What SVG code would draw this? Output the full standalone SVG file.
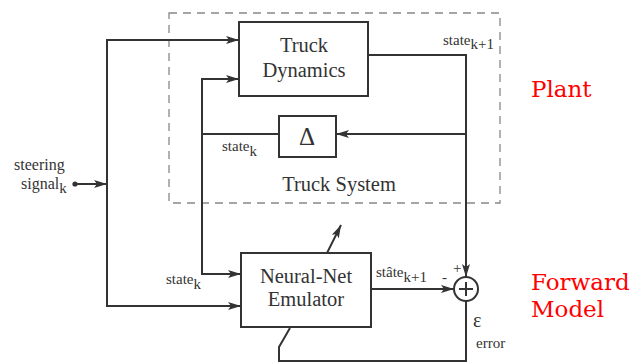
<svg xmlns="http://www.w3.org/2000/svg" width="636" height="363" viewBox="0 0 636 363">
  <style>
    .box { fill: #fff; stroke: #333; stroke-width: 2; }
    .wire { fill: none; stroke: #333; stroke-width: 2; }
    .arrow { marker-end: url(#head); }
    .lbl { fill: #333; }
    .big { font-size: 20.5px; text-anchor: middle; }
    .small { font-size: 15px; }
    .red { fill: #ff0000; font-size: 23px; }
    .frame { fill: none; stroke: #888; stroke-width: 1.3; stroke-dasharray: 8 6; }
  </style>
  <defs>
    <marker id="head" markerUnits="userSpaceOnUse" markerWidth="14" markerHeight="10" refX="13" refY="4" orient="auto">
      <path d="M0,0 L13,4 L0,8 L3,4 z" fill="#333"/>
    </marker>
  </defs>
  <rect width="636" height="363" fill="#fff"/>

  <g font-family="Liberation Serif, serif">
    <!-- plant boundary -->
    <g id="truck-system">
      <rect class="frame" x="169" y="13" width="331" height="190"/>
      <text class="lbl big" x="339" y="191" font-size="21">Truck System</text>
    </g>

    <!-- connectors -->
    <g id="connectors">
      <circle cx="75" cy="184" r="2.6" fill="#333"/>
      <path class="wire arrow" d="M75,184 H107"/>
      <path class="wire arrow" d="M107,184 V40 H239"/>
      <path class="wire arrow" d="M107,184 V306 H241"/>
      <path class="wire arrow" d="M279,134 H202 V79 H239"/>
      <path class="wire arrow" d="M202,134 V274 H241"/>
      <path class="wire arrow" d="M368,55 H466 V277"/>
      <path class="wire arrow" d="M466,134 H336"/>
      <path class="wire arrow" d="M371,289 H454"/>
      <path class="wire" d="M466,301 V361 H279 V347 L290,328"/>
      <path class="wire arrow" d="M327,253 L341,225"/>
    </g>

    <g id="truck-dynamics">
      <rect class="box" x="239" y="22" width="129" height="74"/>
      <text class="lbl big" x="304" y="52">Truck</text>
      <text class="lbl big" x="304" y="77">Dynamics</text>
    </g>

    <g id="delay">
      <rect class="box" x="279" y="116" width="57" height="41"/>
      <text class="lbl" x="307" y="145" font-size="25" text-anchor="middle">Δ</text>
    </g>

    <g id="emulator">
      <rect class="box" x="241" y="253" width="130" height="74"/>
      <text class="lbl big" x="306" y="283">Neural-Net</text>
      <text class="lbl big" x="306" y="306">Emulator</text>
    </g>

    <g id="sum">
      <circle cx="466" cy="289" r="12" fill="#fff" stroke="#333" stroke-width="2"/>
      <path class="wire" d="M466,282 V296 M459,289 H473" stroke-width="1.5"/>
    </g>

    <!-- labels -->
    <g id="labels">
      <text class="lbl" x="14" y="170" font-size="16">steering</text>
      <text class="lbl" x="21" y="189" font-size="16">signal<tspan font-size="15" dy="4">k</tspan></text>
      <text class="lbl small" x="222" y="151">state<tspan dy="5">k</tspan></text>
      <text class="lbl small" x="166" y="284">state<tspan dy="5">k</tspan></text>
      <text class="lbl small" x="443" y="45">state<tspan dy="4">k+1</tspan></text>
      <text class="lbl small" x="376" y="277">stâte<tspan dy="5">k+1</tspan></text>
      <text class="lbl small" x="453" y="273">+</text>
      <text class="lbl small" x="442" y="282">-</text>
      <text class="lbl" x="473" y="327" font-size="20">ε</text>
      <text class="lbl small" x="476" y="348">error</text>
    </g>
  </g>

  <g id="annotations" font-family="DejaVu Serif, serif">
    <text class="red" x="531" y="97">Plant</text>
    <text class="red" x="531" y="290">Forward</text>
    <text class="red" x="531" y="317">Model</text>
  </g>
</svg>
